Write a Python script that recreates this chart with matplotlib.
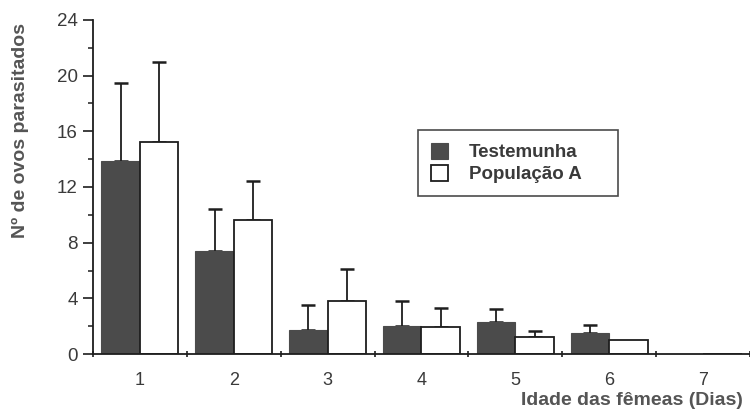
import matplotlib
matplotlib.use("Agg")
import matplotlib.pyplot as plt
import numpy as np

plt.rcParams['font.family'] = ['Liberation Sans', 'DejaVu Sans']

# idade das femeas (dias)
dias = [1, 2, 3, 4, 5, 6, 7]
testemunha = [13.9, 7.4, 1.7, 2.0, 2.3, 1.5, 0.0]
testemunha_sd = [5.6, 3.0, 1.8, 1.8, 0.9, 0.55, 0.0]
populacao_a = [15.2, 9.65, 3.8, 1.95, 1.2, 1.0, 0.0]
populacao_a_sd = [5.8, 2.75, 2.3, 1.35, 0.45, 0.0, 0.0]

txt = '#3a3a3a'
dark = '#4b4b4b'
edge = '#1e1e1e'

fig = plt.figure(figsize=(7.5, 4.16), dpi=100)
ax = fig.add_axes([0.124, 0.149, 0.876, 0.803])

x = np.array(dias, dtype=float)
w = 0.41
ax.bar(x - w / 2, testemunha, w, color=dark, edgecolor=dark, linewidth=0.8,
       label='Testemunha', zorder=2)
ax.bar(x + w / 2, populacao_a, w, color='white', edgecolor=edge, linewidth=1.3,
       label='População A', zorder=2)

# only upward error bars, skip empty ones
for off, vals, sds in [(-w / 2, testemunha, testemunha_sd),
                       (w / 2, populacao_a, populacao_a_sd)]:
    vals = np.array(vals)
    sds = np.array(sds)
    m = sds > 0
    ax.errorbar(x[m] + off, vals[m], yerr=[np.zeros(m.sum()), sds[m]],
                fmt='none', ecolor=edge, elinewidth=1.3, capsize=4.7,
                capthick=1.8, zorder=1)

ax.set_xlim(0.5, 7.5)
ax.set_ylim(0, 24)
ax.set_yticks(np.arange(0, 25, 4))
ax.set_yticks(np.arange(0, 25, 2), minor=True)
ax.set_xticks(dias)
ax.set_xticks(np.arange(0.5, 7.6, 1.0), minor=True)

for s in ['top', 'right']:
    ax.spines[s].set_visible(False)
for s in ['left', 'bottom']:
    ax.spines[s].set_color(edge)
    ax.spines[s].set_linewidth(1.3)

ax.tick_params(axis='y', which='major', length=7, width=1.2, color=edge,
               labelsize=13.5, labelcolor=txt, pad=4)
ax.tick_params(axis='y', which='minor', length=3.5, width=1.1, color=edge)
ax.tick_params(axis='x', which='major', length=0, labelsize=13,
               labelcolor=txt, pad=13)
ax.tick_params(axis='x', which='minor', length=5, width=1.2, color=edge,
               direction='inout')

fig.text(20 / 750, 1 - 130 / 416, 'Nº de ovos parasitados', rotation=90,
         ha='center', va='center', fontsize=14, color='#555555',
         fontweight='bold')
fig.text(743 / 750, 1 - 392 / 416, 'Idade das fêmeas (Dias)', ha='right',
         va='top', fontsize=14, color='#555555', fontweight='bold')

leg = ax.legend(loc='upper left', bbox_to_anchor=(0.495, 0.471, 0.304, 0.2),
                mode='expand', borderaxespad=0, fancybox=False, frameon=True,
                fontsize=13.5, handlelength=0.9, handleheight=0.9,
                handletextpad=1.1, borderpad=0.7, labelspacing=0.2,
                edgecolor=edge)
leg.get_frame().set_linewidth(1.2)
for t in leg.get_texts():
    t.set_color(txt)
    t.set_fontweight('bold')

fig.savefig('out.png', dpi=100)
